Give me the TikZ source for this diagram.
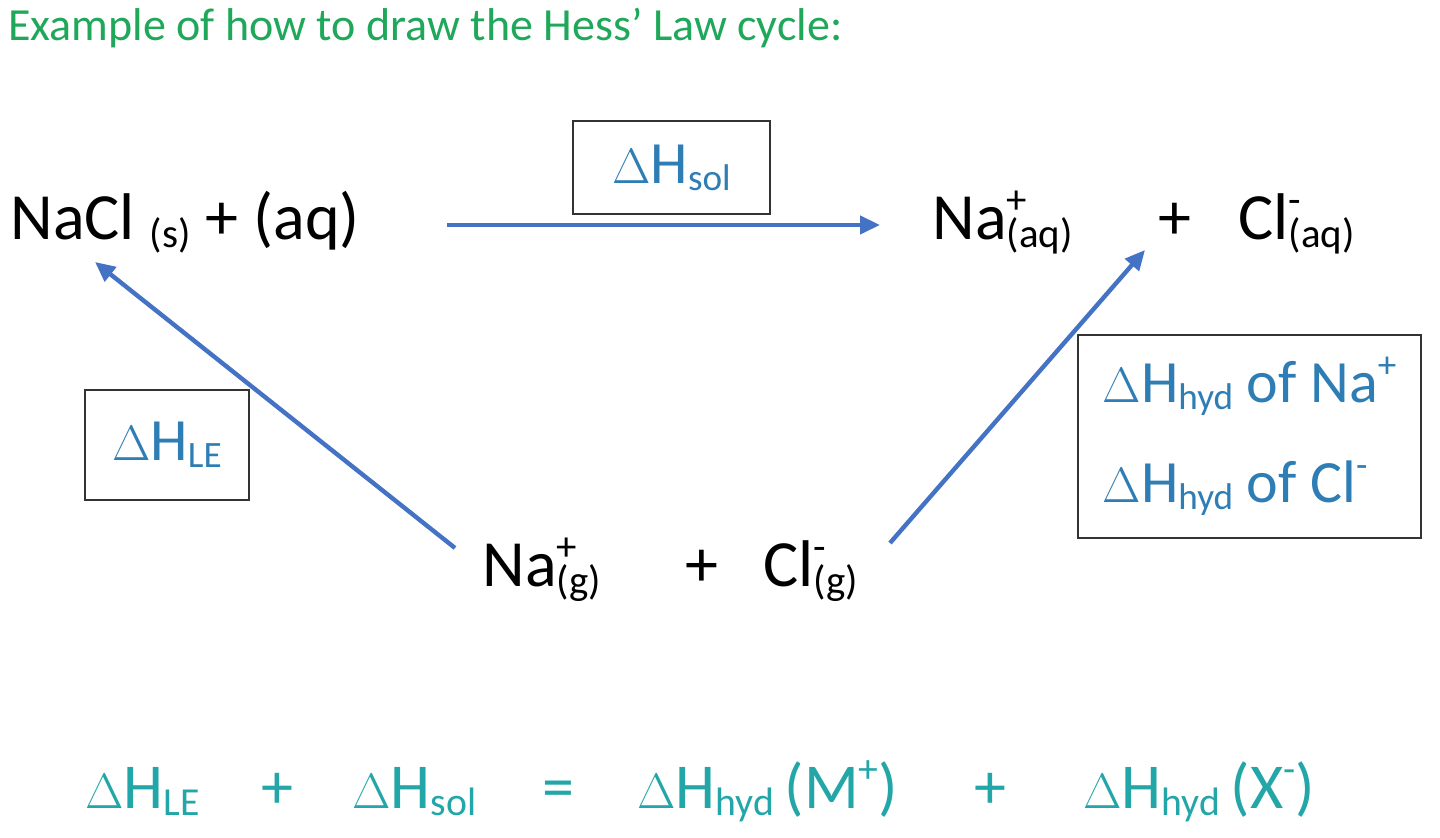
\documentclass[tikz,border=0pt]{standalone}
\usepackage{fontspec}
\usepackage{graphicx}
\setmainfont{Carlito}
\usetikzlibrary{arrows.meta}
\definecolor{ttl}{HTML}{1FA85A}
\definecolor{lbl}{HTML}{2E7DB5}
\definecolor{eqc}{HTML}{22A6A8}
\definecolor{arr}{HTML}{4472C4}
\newcommand\ssb[1]{\raisebox{-0.25ex}{\scalebox{0.62}{#1}}}
\newcommand\ssp[1]{\raisebox{0.85ex}{\scalebox{0.62}{#1}}}
\newcommand\supsub[2]{\makebox[0pt][l]{\ssp{#1}}\ssb{#2}}
\tikzset{
  arrowline/.style={draw=arr,line width=2.2pt,-{Triangle[length=10pt,width=9pt]}},
  lblbox/.style={draw=black!80,line width=0.9pt,text=lbl,font=\fontsize{30}{36}\selectfont,inner sep=0pt},
  chem/.style={font=\fontsize{33}{40}\selectfont,inner sep=0pt},
  eqt/.style={text=eqc,font=\fontsize{32}{40}\selectfont,inner sep=0pt}
}
\begin{document}
\begin{tikzpicture}[x=0.5pt,y=-0.5pt]
\useasboundingbox (0,0) rectangle (1440,838);
\node[anchor=west,text=ttl,font=\fontsize{23}{26}\selectfont,inner sep=0pt] (title) at (8,28) {Example of how to draw the Hess’ Law cycle:};
\node[chem,anchor=base west] (nacl) at (10,240) {NaCl \ssb{(s)} + (aq)};
\node[chem,anchor=base west] (naaq) at (932,240) {Na\supsub{+}{(aq)}};
\node[chem,anchor=base] (p1) at (1175,240) {+};
\node[chem,anchor=base west] (claq) at (1238,240) {Cl\supsub{-}{(aq)}};
\node[chem,anchor=base west] (nag) at (482,587) {Na\supsub{+}{(g)}};
\node[chem,anchor=base] (p2) at (702,587) {+};
\node[chem,anchor=base west] (clg) at (763,587) {Cl\supsub{-}{(g)}};
\node[lblbox,minimum width=98.5pt,minimum height=46.5pt] (bsol) at (671.5,167.5) {$\Delta$H\ssb{sol}};
\node[lblbox,minimum width=82pt,minimum height=55pt] (ble) at (167,445) {$\Delta$H\ssb{LE}};
\node[lblbox,minimum width=171.5pt,minimum height=101.5pt,align=left] (bhyd) at (1249.5,436.5) {$\Delta$H\ssb{hyd} of Na\ssp{+}\\[14pt]$\Delta$H\ssb{hyd} of Cl\ssp{-}};
\coordinate (a1s) at (447,225); \coordinate (a1e) at (880,225);
\coordinate (a2s) at (455,548); \coordinate (a2e) at (95,262);
\coordinate (a3s) at (890,543); \coordinate (a3e) at (1145,250);
\draw[arrowline] (a1s) -- (a1e);
\draw[arrowline] (a2s) -- (a2e);
\draw[arrowline] (a3s) -- (a3e);
\node[eqt,anchor=base west] (e1) at (85,808) {$\Delta$H\ssb{LE}};
\node[eqt,anchor=base] (e2) at (277,808) {+};
\node[eqt,anchor=base west] (e3) at (352,808) {$\Delta$H\ssb{sol}};
\node[eqt,anchor=base] (e4) at (558,808) {=};
\node[eqt,anchor=base west] (e5) at (637,808) {$\Delta$H\ssb{hyd}\,(M\ssp{+})};
\node[eqt,anchor=base] (e6) at (990,808) {+};
\node[eqt,anchor=base west] (e7) at (1083,808) {$\Delta$H\ssb{hyd}\,(X\ssp{-})};
\end{tikzpicture}
\end{document}
